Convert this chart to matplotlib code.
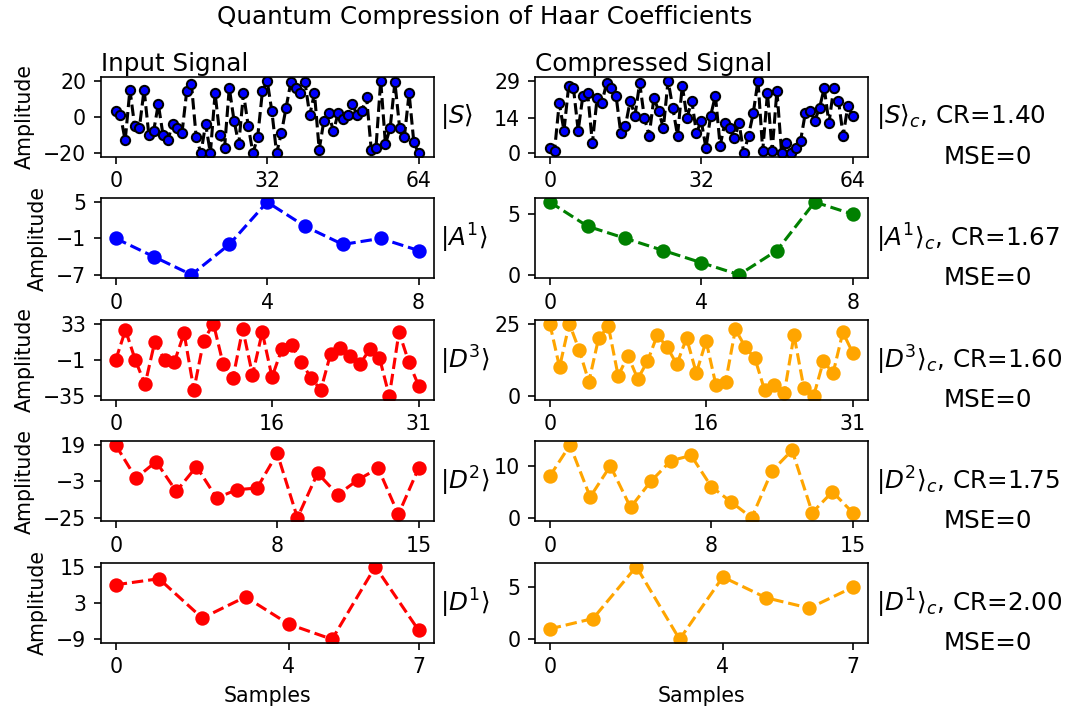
import matplotlib
matplotlib.use("Agg")
import matplotlib.pyplot as plt

# input coefficients (left column) and their compressed versions (right column)
s_in = [3, 1, -13, 15, -5, -6, 15, -10, -8, 7, -10, -13, -4, -6, -9, 14, 18, -11,
        -20, -4, -20, 13, -10, -17, 16, -2, -15, 13, -5, -20, -11, 14, 20, 3, -20,
        -9, 5, 19, 16, 13, 19, 1, 13, -18, -2, 2, -8, 2, -1, 1, 7, 1, 3, 11, -18,
        -17, 20, -15, -6, 19, -6, -11, 13, -14, -20]
s_out = [2, 1, 20, 9, 27, 26, 9, 23, 24, 4, 22, 20, 28, 26, 23, 8, 11, 21, 15, 28,
         14, 7, 22, 17, 10, 29, 18, 7, 27, 14, 21, 8, 13, 2, 15, 23, 3, 12, 10, 6,
         12, 0, 7, 16, 29, 1, 24, 1, 25, 0, 4, 0, 2, 5, 16, 17, 13, 18, 26, 12, 26,
         21, 7, 19, 15]
a1_in = [-1, -4, -7, -2, 5, 1, -2, -1, -3]
a1_out = [6, 4, 3, 2, 1, 0, 2, 6, 5]
d3_in = [-1, 27, -1, -24, 16, -1, -3, 24, -29, 17, 33, -5, -18, 28, -15, 25, -17,
         9, 13, -3, -18, -29, 5, 10, 3, -5, 9, 1, -35, 25, -3, -25]
d3_out = [25, 10, 25, 16, 5, 20, 24, 7, 14, 6, 12, 21, 17, 11, 20, 8, 19, 4, 5, 23,
          17, 13, 2, 4, 1, 21, 3, 0, 12, 8, 22, 15]
d2_in = [19, -1, 9, -9, 6, -13, -8, -7, 14, -25, 2, -11, -2, 5, -23, 5]
d2_out = [8, 14, 4, 10, 2, 7, 11, 12, 6, 3, 0, 9, 13, 1, 5, 1]
d1_in = [9, 11, -2, 5, -4, -9, 15, -6]
d1_out = [1, 2, 7, 0, 6, 4, 3, 5]

names = ["S", "A^1", "D^3", "D^2", "D^1"]
ratios = [1.40, 1.67, 1.60, 1.75, 2.00]
mses = [0, 0, 0, 0, 0]
out_yticks = [None, [0, 5], [0, 25], [0, 10], [0, 5]]

inputs = [s_in, a1_in, d3_in, d2_in, d1_in]
outputs = [s_out, a1_out, d3_out, d2_out, d1_out]


def min_mid_max(v):
    lo, hi = min(v), max(v)
    return [lo, (lo + hi) // 2, hi]


fig, axes = plt.subplots(5, 2, figsize=(1070 / 148, 712 / 148), dpi=148)
fig.subplots_adjust(left=0.094, right=0.811, top=0.892, bottom=0.097,
                    hspace=0.52, wspace=0.303)

for i in range(5):
    ax_l, ax_r = axes[i]
    xin = list(range(len(inputs[i])))
    xout = list(range(len(outputs[i])))

    if i == 0:
        ax_l.plot(xin, inputs[i], "k--", marker="o", mfc="blue", mec="black", ms=4.5)
        ax_r.plot(xout, outputs[i], "k--", marker="o", mfc="blue", mec="black", ms=4.5)
    elif i == 1:
        ax_l.plot(xin, inputs[i], "o--", color="blue")
        ax_r.plot(xout, outputs[i], "o--", color="green")
    else:
        ax_l.plot(xin, inputs[i], "o--", color="red")
        ax_r.plot(xout, outputs[i], "o--", color="orange")

    n = len(inputs[i])
    ax_l.set_xticks([0, n // 2, n - 1])
    ax_r.set_xticks([0, n // 2, n - 1])
    ax_l.set_yticks(min_mid_max(inputs[i]))
    if out_yticks[i] is None:
        ax_r.set_yticks(min_mid_max(outputs[i]))
    else:
        ax_r.set_yticks(out_yticks[i])

    ax_l.set_ylabel("Amplitude")
    ax_l.text(1.018, 0.5, rf"$|{names[i]}\rangle$", transform=ax_l.transAxes,
              ha="left", va="center", fontsize=12)
    ax_r.text(1.024, 0.5, rf"$|{names[i]}\rangle_c$, CR={ratios[i]:.2f}",
              transform=ax_r.transAxes, ha="left", va="center", fontsize=12)
    ax_r.text(1.494, 0.0, f"MSE={mses[i]}", transform=ax_r.transAxes,
              ha="right", va="center", fontsize=12)

axes[0, 0].set_title("Input Signal", loc="left", pad=3)
axes[0, 1].set_title("Compressed Signal", loc="left", pad=3)
axes[4, 0].set_xlabel("Samples")
axes[4, 1].set_xlabel("Samples")

fig.suptitle("Quantum Compression of Haar Coefficients", x=0.453, y=0.993,
             va="top", fontsize=12)

fig.savefig("out.png", dpi=148)
